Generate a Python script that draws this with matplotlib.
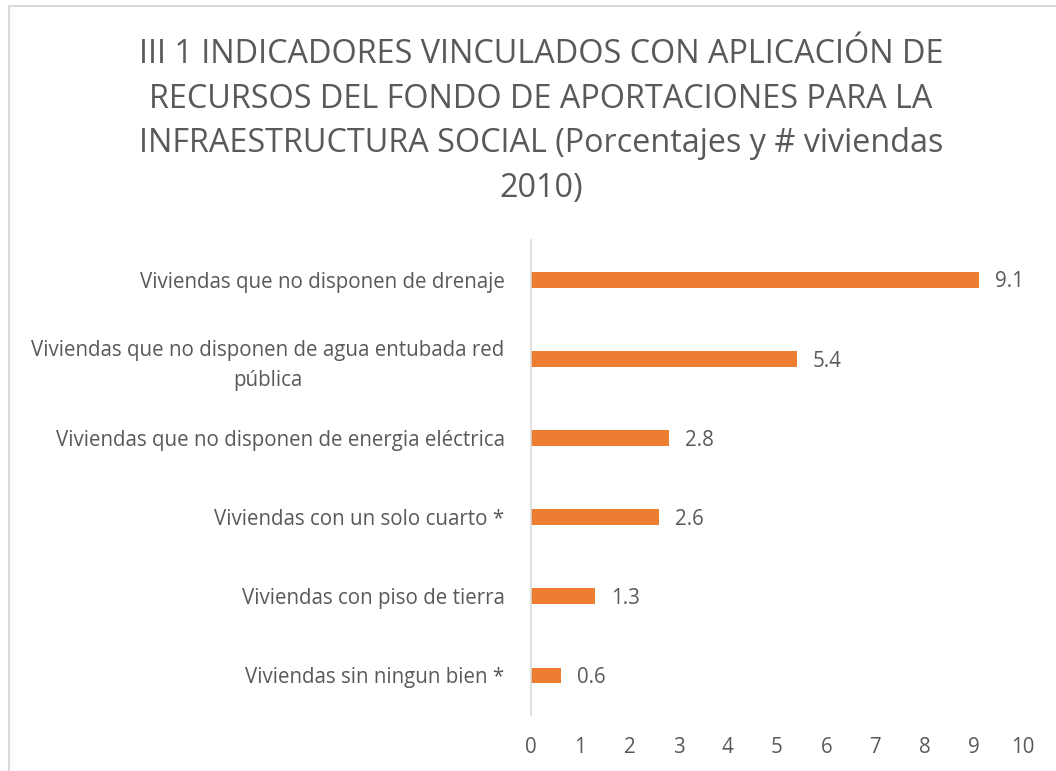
import matplotlib
matplotlib.use("Agg")
import matplotlib.pyplot as plt
from matplotlib.patches import Rectangle

plt.rcParams['font.family'] = ['Open Sans', 'DejaVu Sans']

categories = [
    "Viviendas que no disponen de drenaje",
    "Viviendas que no disponen de agua entubada red\npública",
    "Viviendas que no disponen de energia eléctrica",
    "Viviendas con un solo cuarto *",
    "Viviendas con piso de tierra",
    "Viviendas sin ningun bien *",
]
values = [9.1, 5.4, 2.8, 2.6, 1.3, 0.6]
xticks = list(range(0, 11))
title = ("III 1 INDICADORES VINCULADOS CON APLICACIÓN DE\n"
         "RECURSOS DEL FONDO DE APORTACIONES PARA LA\n"
         "INFRAESTRUCTURA SOCIAL (Porcentajes y # viviendas\n"
         "2010)")

W, H = 1056, 771
fig = plt.figure(figsize=(W / 100, H / 100), dpi=100)
fig.patch.set_facecolor('white')

# border
fig.add_artist(Rectangle((9 / W, -0.01), 1.1, 1 - 6 / H + 0.01, transform=fig.transFigure,
                         fill=False, edgecolor='#D9D9D9', linewidth=1.5))

text_color = '#595959'
fs = 14.8
ax = fig.add_axes([531 / W, 1 - 715 / H, (1023 - 531) / W, (715 - 240) / H])
n = len(categories)
ypos = list(range(n))[::-1]
ax.barh(ypos, values, height=0.2, color='#ED7D31')
ax.set_ylim(-0.5, n - 0.5)
ax.set_xlim(0, 10)
ax.set_yticks(ypos)
ax.set_yticklabels(categories, fontsize=fs, color=text_color, ha='right',
                   multialignment='center', linespacing=1.55)
ax.set_xticks(xticks)
ax.set_xticklabels([str(t) for t in xticks], fontsize=fs, color=text_color)
ax.tick_params(axis='both', length=0)
ax.tick_params(axis='x', pad=16)
ax.tick_params(axis='y', pad=19)
for s in ['top', 'right', 'bottom']:
    ax.spines[s].set_visible(False)
ax.spines['left'].set_color('#D9D9D9')
ax.spines['left'].set_linewidth(1.2)

for y, v in zip(ypos, values):
    ax.text(v + 0.33, y - 0.03, f"{v:.1f}", va='center', ha='left', fontsize=fs, color=text_color)

fig.text(541 / W, 1 - 38 / H, title, ha='center', va='top', fontsize=23.3,
         color=text_color, linespacing=1.47)

fig.savefig('out.png', dpi=100)
